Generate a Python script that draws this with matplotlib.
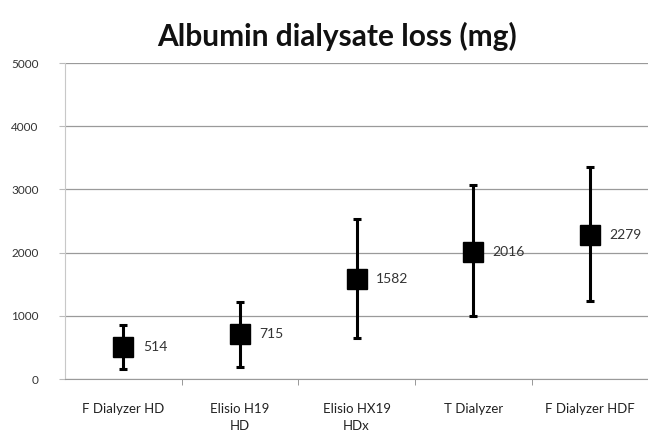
import numpy as np
import matplotlib
matplotlib.use("Agg")
from matplotlib import pyplot as plt

# chart data
categories = ["F Dialyzer HD", "Elisio H19\nHD", "Elisio HX19\nHDx", "T Dialyzer", "F Dialyzer HDF"]
means = [514, 715, 1582, 2016, 2279]
err_low = [165, 191, 644, 989, 1239]
err_high = [856, 1223, 2527, 3074, 3351]

plt.rcParams['font.family'] = ['Lato', 'DejaVu Sans']

fig = plt.figure(figsize=(6.48, 4.33), dpi=100)
ax = fig.add_axes([0.1003, 0.1247, 0.9, 0.7298])

x = np.arange(len(categories))
means_arr = np.array(means)
yerr = np.array([means_arr - np.array(err_low), np.array(err_high) - means_arr])

ax.errorbar(x, means, yerr=yerr, fmt='s', color='black', markersize=14,
            elinewidth=2.2, capsize=3, capthick=2.2, zorder=3)

for xi, m in zip(x, means):
    ax.annotate(str(m), (xi, m), xytext=(14, 0), textcoords='offset points',
                ha='left', va='center', fontsize=10, color='#333333')

ax.set_xlim(-0.5, len(categories) - 0.5)
ax.set_ylim(0, 5000)
ax.set_yticks(np.arange(0, 5001, 1000))
ax.yaxis.grid(True, color='#9a9a9a', linewidth=0.9)
ax.set_axisbelow(True)

ax.set_xticks(x)
ax.set_xticklabels(categories, fontsize=9.5, color='#222222', linespacing=1.5)
ax.tick_params(axis='x', which='major', length=0, pad=17)
ax.set_xticks(np.arange(0.5, len(categories) - 0.5, 1), minor=True)
ax.tick_params(axis='x', which='minor', length=4, color='#888888')
ax.tick_params(axis='y', labelsize=8.5, labelcolor='#333333', length=4, color='#bbbbbb', pad=15)

for s in ['top', 'right']:
    ax.spines[s].set_visible(False)
ax.spines['left'].set_color('#c8c8c8')
ax.spines['bottom'].set_color('#9a9a9a')

fig.text(0.52, 0.915, "Albumin dialysate loss (mg)", ha='center', va='center',
         fontsize=21.5, fontweight='bold', color='#111111')

fig.savefig("out.png", dpi=100)
